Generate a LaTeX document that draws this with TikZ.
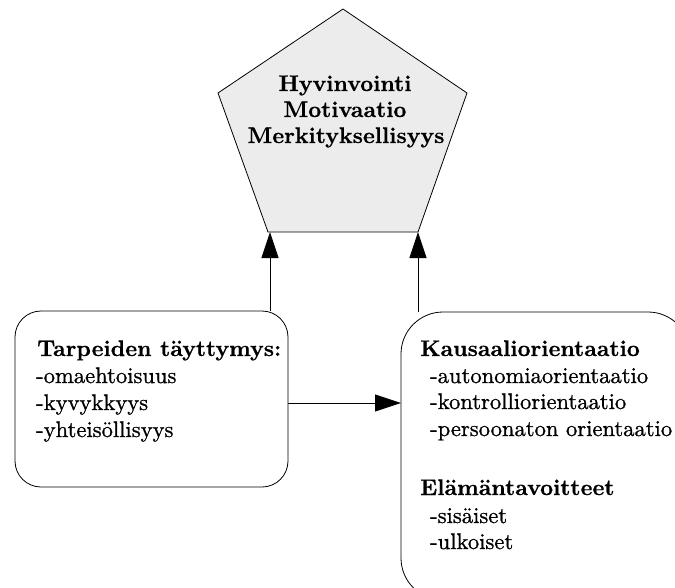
\documentclass[tikz,border=0pt]{standalone}
\usepackage{fontspec}
\setmainfont{lmroman10-regular.otf}[BoldFont=lmroman10-bold.otf, FakeBold=0.9, BoldFeatures={FakeBold=0.5}]
\usetikzlibrary{arrows.meta}
\definecolor{penfill}{RGB}{236,236,236}
\tikzset{
  line/.style={line width=0.8pt, draw=black},
  arr/.style={line, -{Triangle[length=26pt,width=17pt]}},
  boxshape/.style={line, rounded corners=#1},
  txt/.style={anchor=base west, inner sep=0pt, font=\fontsize{22.6}{27}\selectfont},
  head/.style={txt, font=\fontsize{22.6}{27}\selectfont\bfseries},
  ptxt/.style={anchor=base, inner sep=0pt, font=\fontsize{22.6}{27}\selectfont\bfseries}
}
\begin{document}
\begin{tikzpicture}[x=1pt, y=-1pt]
\useasboundingbox (0,0) rectangle (675,587);

% pentagon corners
\coordinate (pa) at (343,9);
\coordinate (pr) at (467,93);
\coordinate (pbr) at (418,232);
\coordinate (pbl) at (268,232);
\coordinate (pl) at (218,93);
\filldraw[line, fill=penfill, line join=miter] (pa) -- (pr) -- (pbr) -- (pbl) -- (pl) -- cycle;
\node[ptxt] (p1) at (345,91) {Hyvinvointi};
\node[ptxt] (p2) at (345,117) {Motivaatio};
\node[ptxt] (p3) at (346,143) {Merkityksellisyys};

% rounded boxes
\draw[boxshape=26pt] (15,311) rectangle (288,487);
\draw[boxshape=42pt] (401,312) rectangle (690,600);
\coordinate (lbtop) at (270,311);
\coordinate (rbtop) at (418,312);
\coordinate (lbeast) at (288,403);
\coordinate (rbwest) at (401,403);
\coordinate (pin1) at (270,232);

% left box text
\node[head] (l0) at (37,356) {Tarpeiden täyttymys:};
\node[txt] (l1) at (36,383) {-omaehtoisuus};
\node[txt] (l2) at (36,410) {-kyvykkyys};
\node[txt] (l3) at (36,437) {-yhteisöllisyys};

% right box text
\node[head] (r0) at (420,356) {Kausaaliorientaatio};
\node[txt] (r1) at (430,383) {-autonomiaorientaatio};
\node[txt] (r2) at (430,409) {-kontrolliorientaatio};
\node[txt] (r3) at (430,436) {-persoonaton orientaatio};
\node[head] (r4) at (420,495) {Elämäntavoitteet};
\node[txt] (r5) at (430,523) {-sisäiset};
\node[txt] (r6) at (430,549) {-ulkoiset};

% connectors
\draw[arr] (lbtop) -- (pin1);
\draw[arr] (rbtop) -- (pbr);
\draw[arr] (lbeast) -- (rbwest);
\end{tikzpicture}
\end{document}
